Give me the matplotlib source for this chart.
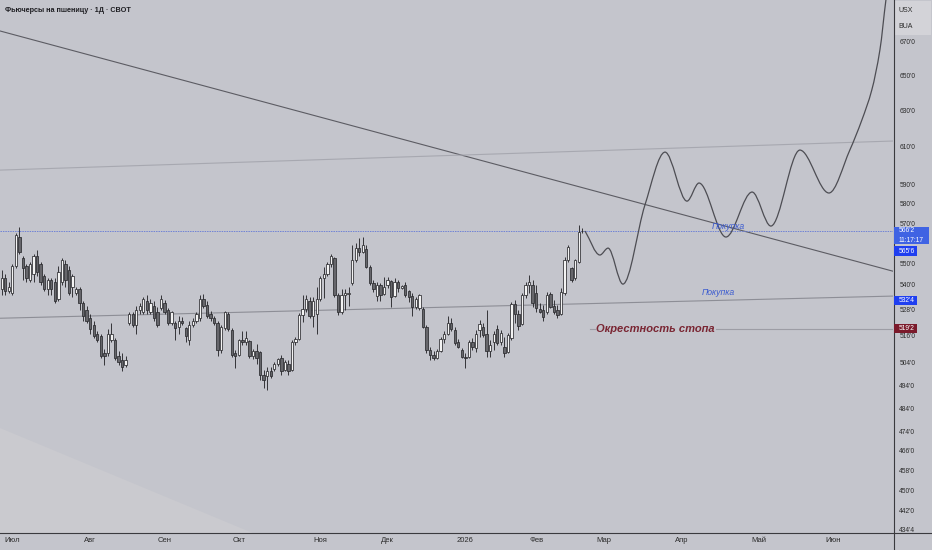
import numpy as np
import pandas as pd
import matplotlib
matplotlib.use("Agg")
import matplotlib.pyplot as plt
from matplotlib.path import Path
from matplotlib.patches import PathPatch, Rectangle, Polygon
from matplotlib.lines import Line2D
from matplotlib.ticker import FixedLocator, FixedFormatter, NullLocator

# ---------------- data ----------------
opens = [538,543,537,536,549,563,553,549,542,545,554,550,544,538,542,541,533,541,550,547,
         539,536,538,531,528,524,521,517,516,508,508,514,514,507,505,503,522,526,521,528,
         527,532,527,530,527,529,531,528,522,522,520,523,519.5,514,521,523,524,533,530.5,526,
         524,522,509.5,519.5,526,518.5,508,507.5,514,513,513.5,507,509,508.5,498.5,498,500,501,
         503.5,506,500.5,503.5,500.5,513,514.5,525.5,528.5,532,525,526,533,543,545,550,
         553,535,527,535,535.5,540.5,552,558,556,557.5,548.6,540.5,534.5,540,535.5,540,
         541.5,534.5,541,538.5,540,537,534.5,529.5,529,528.6,520,509.5,507.5,506,509,514.5,
         517,521.8,518.5,513,509.5,506.5,506.5,513,510.5,518.5,520,517,509,513,519,513,
         511,508.5,515,530.9,526,521.5,535,539.7,540,536,528.5,527.9,527,535.5,530,528,
         526,536,551.8,547.8,543,551,566]
highs = [547,545,541,550,565,568,554,550,551,555,557,551,545,543,543,543,549,553,552,549,
         545,539,539,532,530,526,523,518,517,510,519,522,515,509,508,507,527,527,530,531,
         534,535,533,532,529.5,535,532.6,529,527.5,523,525,524.5,520,522.6,524,527,535,535.5,532,527.5,
         525,523,521,527.5,527,519.5,509.5,514.5,518,518,514,510,512.5,509,500.5,502,502,504,
         506,507.3,505,505,514,515.5,526.5,535,535,534,534,539,544,548.5,551,555,
         553.5,536,538,538,539,559,560,562.5,563.4,559,549.4,542,541,540.5,543.5,543.7,
         542,543,542,540,541.3,537.5,536,534,535.5,529.4,521,511,509,510,515.5,518,
         525,524,520.2,514.5,510.3,508,514,515,518.7,523.3,522,528,514,518,521,518.5,
         515.6,517.2,531.7,532.6,528,535.8,541.3,544.5,542,539.7,531,530.2,536.6,536.5,532.6,530.2,
         538.2,553.5,559.2,548.6,552.5,569.2,567.5]
lows = [535,535,536,535,548,555,542,541,541,541,544,540,537,535,535,531,532,540,539,535,
        534,535,528,523,522,517,515,513,506,503,507,513,505,503,500,502,521,520,517,526,
        526,526,526,523,520,528,526,521,521,514,517,521,513,512,520,522,523,529,524,523,
        521,507,508,518.7,518,506.5,501.5,507,512,512,506,505.5,503.5,496,492.5,491.8,497,500,
        502.5,498.3,500,498.3,500,512,514,522.5,527,524,520,517,532,533.5,544,548.6,
        534,525.5,526.3,528,530,539.7,551,554,555.5,547.8,539.7,536.6,532,532,535,538.2,
        529.4,534,536.6,538,534.2,531.8,525,528.5,528,519.5,508,505,505,505.5,508.5,512.6,
        516.5,518,511.8,510.5,505.8,501.4,506,509.5,508.8,515.5,515.6,506.5,506.5,509.5,511.8,512,
        506.5,508,514.1,521.8,518.7,521,533.4,535.8,529.4,527,526.5,522.6,526.3,529,526.3,524.1,
        525.5,535,551,541.3,542,550.2,565]
closes = [543,537,539,549,564,556,548,543,550,554,546,541,538,542,538,532,546,552,542,536,
          544,538,531,525,523,519,516,514,507,507,517,517,506,504,502,505,526,521,528,530,
          533,528,531,524,521,533,527,522,527,519.5,523,522,516,521,523,526,533,530,525,524,
          522,509.5,520,527,519,507.5,507,514,513,515,507,509,506,498.5,496,500,498,503.5,
          505.5,500,504,500,513,514.5,525.5,528.5,533,525,532,533,543,545,550,554,
          535,527,535,536,536,551.8,558,556,559,548.6,540.5,538,540,535,539,542,
          534.2,541,538.5,539.5,535,534,529.5,533,535,520.2,509.5,507.5,506,509,514.5,517,
          521.8,519,512.6,511,506.5,506,513.3,511,517,521.5,516.5,509,512,517,512.6,517.5,
          508,516.4,530.9,526,520.5,535,539.7,541,531,528.7,527,524.8,535,529.5,527,525.6,
          536.6,551.8,558.4,542.1,551.8,565.8,566.25]

holidays = ["2025-07-04", "2025-09-01", "2025-11-27", "2025-12-25",
            "2026-01-01", "2026-01-19", "2026-02-16"]
month_labels = {7: "Июл", 8: "Авг", 9: "Сен", 10: "Окт", 11: "Ноя", 12: "Дек",
                1: "2026", 2: "Фев", 3: "Мар", 4: "Апр", 5: "Май", 6: "Июн"}

ytick_vals = [670, 650, 630, 610, 590, 580, 570, 550, 540, 528, 516, 504, 494,
              484, 474, 466, 458, 450, 442, 434.5]
ytick_labels = ["670'0", "650'0", "630'0", "610'0", "590'0", "580'0", "570'0", "550'0",
                "540'0", "528'0", "516'0", "504'0", "494'0", "484'0", "474'0", "466'0",
                "458'0", "450'0", "442'0", "434'4"]

# drawings (bar index, price)
trend_bars = [-0.48, 251.8]
trend_prices = [676.0, 546.4]
upper_bars = [-0.48, 251.8]
upper_prices = [597.6, 613.2]
lower_bars = [-0.48, 251.8]
lower_prices = [524.1, 534.5]
last_price = 566.25
stop_price = 519.25
stop_start_bar = 166.2
buy_level = 532.5
ask_price = 565.75

curve_bars = [164.8, 169.0, 171.3, 175.5, 181.7, 187.4, 193.6, 197.0, 204.6, 212.0,
              217.3, 225.5, 233.7, 239.6, 243.0, 245.8, 248.1, 249.8, 250.6]
curve_prices = [566.2, 554.3, 557.7, 540.2, 579.3, 607.2, 581.4, 590.8, 563.2, 586.1,
                568.7, 608.3, 585.6, 608.3, 624.7, 641.5, 664.7, 694.8, 707.0]

# ---------------- dates / bar index ----------------
hist_days = [d for d in pd.bdate_range("2025-06-26", "2026-02-20")
             if d.strftime("%Y-%m-%d") not in holidays]
future_days = list(pd.bdate_range("2026-02-23", "2026-07-31"))
all_days = hist_days + future_days
n = len(closes)
xb = np.arange(n)

tick_pos, tick_lab = [], []
for i in range(1, len(all_days)):
    if all_days[i].month != all_days[i - 1].month and i < 252:
        tick_pos.append(i)
        tick_lab.append(month_labels[all_days[i].month])

# ---------------- figure ----------------
BG = "#c4c5cc"
W, H = 932, 550
FAM = ["Liberation Sans", "DejaVu Sans"]
fig = plt.figure(figsize=(W / 100, H / 100), dpi=100, facecolor=BG)
ax = fig.add_axes([0, 17 / H, 893 / W, 533 / H])
ax.set_facecolor(BG)
ax.set_yscale("log")
ax.set_xlim(-0.48, 251.8)
ax.set_ylim(433.3, 694.8)
for s in ax.spines.values():
    s.set_visible(False)

# lighter lower-left area
ax.add_patch(Polygon([(0, 0), (0, 0.197), (0.283, 0)], closed=True,
                     transform=ax.transAxes, facecolor="#cacacf", edgecolor="none", zorder=0))

# lines
ax.plot(trend_bars, trend_prices, color="#5c5c63", lw=0.8, zorder=2)
ax.plot(upper_bars, upper_prices, color="#a7a8b0", lw=0.8, zorder=2)
ax.plot(lower_bars, lower_prices, color="#8d8e96", lw=0.8, zorder=2)
ax.axhline(last_price, color="#6f82d6", lw=0.7, ls=(0, (1.5, 1)), zorder=2)
ax.plot([stop_start_bar, 251.8], [stop_price, stop_price], color="#9d9da5", lw=0.8, zorder=2)

# candles
o = np.array(opens, float); c = np.array(closes, float)
h = np.array(highs, float); l = np.array(lows, float)
up = c >= o
ax.vlines(xb, l, h, color="#2a2a2e", lw=0.65, zorder=3)
bottom = np.minimum(o, c)
height = np.maximum(np.abs(c - o), 0.4)
ax.bar(xb[up], height[up], bottom=bottom[up], width=0.66, color="#f3f3f3",
       edgecolor="#2a2a2e", linewidth=0.55, zorder=4)
ax.bar(xb[~up], height[~up], bottom=bottom[~up], width=0.66, color="#66666b",
       edgecolor="#2a2a2e", linewidth=0.55, zorder=4)

# projection curve (hermite through waypoints, in log space)
cx = np.array(curve_bars, float)
cy = np.log(np.array(curve_prices, float))
m = np.zeros(len(cx))
for i in range(len(cx)):
    if i == 0:
        m[i] = (cy[1] - cy[0]) / (cx[1] - cx[0])
    elif i == len(cx) - 1:
        m[i] = (cy[i] - cy[i - 1]) / (cx[i] - cx[i - 1])
    else:
        d0 = (cy[i] - cy[i - 1]) / (cx[i] - cx[i - 1])
        d1 = (cy[i + 1] - cy[i]) / (cx[i + 1] - cx[i])
        m[i] = 0.0 if d0 * d1 <= 0 else 2 * d0 * d1 / (d0 + d1) if i >= 13 else 0.5 * (d0 + d1)
verts = [(cx[0], np.exp(cy[0]))]
codes = [Path.MOVETO]
for i in range(len(cx) - 1):
    dx = cx[i + 1] - cx[i]
    c1 = (cx[i] + dx / 3, np.exp(cy[i] + m[i] * dx / 3))
    c2 = (cx[i + 1] - dx / 3, np.exp(cy[i + 1] - m[i + 1] * dx / 3))
    verts += [c1, c2, (cx[i + 1], np.exp(cy[i + 1]))]
    codes += [Path.CURVE4] * 3
ax.add_patch(PathPatch(Path(verts, codes), facecolor="none", edgecolor="#4d4d53",
                       lw=0.9, zorder=5))

# annotations
ax.text(205.4, 568.7, "Покупка", color="#3b5bd0", fontsize=6.2, style="italic",
        ha="center", va="center", family=FAM, zorder=6)
ax.text(202.4, 536.2, "Покупка", color="#3b5bd0", fontsize=6.2, style="italic",
        ha="center", va="center", family=FAM, zorder=6)
ax.text(168.0, stop_price, "Окрестность стопа", color="#7a2633", fontsize=8,
        style="italic", fontweight="bold", ha="left", va="center",
        family=FAM, zorder=6,
        bbox=dict(facecolor=BG, edgecolor="none", pad=0.6))

# axes ticks
ax.xaxis.set_major_locator(FixedLocator(tick_pos))
ax.xaxis.set_major_formatter(FixedFormatter(tick_lab))
ax.tick_params(axis="x", length=0, pad=3, labelsize=5.5, labelcolor="#2b2b2b")
ax.yaxis.set_ticks_position("right")
ax.yaxis.set_major_locator(FixedLocator(ytick_vals))
ax.yaxis.set_major_formatter(FixedFormatter(ytick_labels))
ax.yaxis.set_minor_locator(NullLocator())
ax.tick_params(axis="y", length=0, pad=4.5, labelsize=4.8, labelcolor="#2b2b2b")
for lab in ax.get_xticklabels() + ax.get_yticklabels():
    lab.set_family(FAM)

# frame lines
fig.add_artist(Line2D([893.5 / W, 893.5 / W], [0, 1], color="#3a3a3e", lw=0.8))
fig.add_artist(Line2D([0, 1], [17 / H, 17 / H], color="#3a3a3e", lw=0.8))

# title
fig.text(5 / W, 1 - 10 / H, "Фьючерсы на пшеницу · 1Д · CBOT", fontsize=5.2,
         fontweight="bold", color="#1e1e22", ha="left", va="center", family=FAM)

# top-right panel
fig.add_artist(Rectangle((895 / W, 1 - 35 / H), 36 / W, 34 / H, transform=fig.transFigure,
                         facecolor="#d3d3d8", edgecolor="none"))
fig.text(906 / W, 1 - 10 / H, "USX", fontsize=5, color="#2b2b2b", ha="center", va="center",
         family=FAM)
fig.text(906 / W, 1 - 27 / H, "BUA", fontsize=5, color="#2b2b2b", ha="center", va="center",
         family=FAM)

# price labels on the axis
def ypix(p):
    return ax.transData.transform((0, p))[1]

def box(y_top, y_bot, x1, color):
    fig.add_artist(Rectangle((894 / W, y_bot / H), (x1 - 894) / W, (y_top - y_bot) / H,
                             transform=fig.transFigure, facecolor=color, edgecolor="none",
                             zorder=10))

def label(yc, text, x=899):
    fig.text(x / W, yc / H, text, fontsize=4.8, color="white", ha="left", va="center",
             family=FAM, zorder=11)

yl = ypix(last_price)
box(yl + 3.5, yl - 13.5, 929, "#3f63e3")
label(yl, "566'2")
label(yl - 9.5, "11:17:17")
box(yl - 15.5, yl - 25.5, 917, "#1f3ff0")
label(yl - 20.5, "565'6")
yb = ypix(buy_level)
box(yb + 4, yb - 4.5, 917, "#1f3ff0")
label(yb, "532'4")
ys = ypix(stop_price)
box(ys + 4.5, ys - 4.5, 917, "#7b1a2b")
label(ys, "519'2")

fig.savefig("out.png", dpi=100, facecolor=BG)
